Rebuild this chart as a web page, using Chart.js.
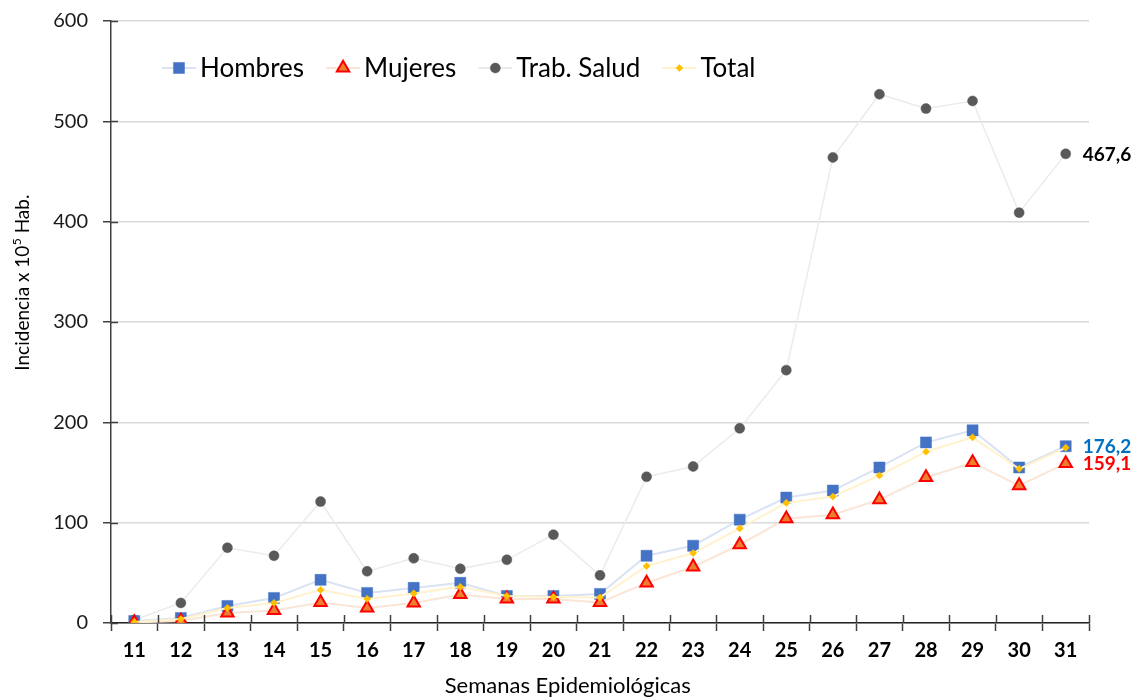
<!DOCTYPE html>
<html>
<head>
<meta charset="utf-8">
<script src="https://cdn.jsdelivr.net/npm/chart.js@4/dist/chart.umd.min.js"></script>
<style>
  html, body { margin: 0; padding: 0; background: #fff; }
  #wrap { width: 1136px; height: 698px; }
</style>
</head>
<body>
<div id="wrap"><canvas id="incidenceChart" width="1136" height="698"></canvas></div>
<script>
// semanas epidemiologicas
const weeks = ['11','12','13','14','15','16','17','18','19','20','21','22','23','24','25','26','27','28','29','30','31'];

// incidencia x 10^5 hab.
const hombres   = [2, 5, 17, 25, 43, 30, 35, 40, 27, 27, 29, 67, 77, 103, 125, 132, 155, 180, 192, 155, 176.2];
const mujeres   = [0.5, 2, 10, 12.5, 20.5, 15, 20, 28.5, 24, 24, 20.5, 40, 56, 78, 104, 108, 123, 145, 160, 137, 159.1];
const trabSalud = [3, 20, 75, 67, 121, 51.5, 64.5, 54, 63, 88, 47.5, 145.7, 156, 194, 252, 464, 527, 512.7, 520.3, 409, 467.6];
const total     = [1, 4, 15, 20, 33, 24, 29.5, 36, 27, 26, 25.5, 56.7, 69.7, 94.3, 119.7, 126, 147, 170.7, 185, 153.7, 174.7];

const yTicks = [0, 100, 200, 300, 400, 500, 600];

const FONT = 'Lato, Carlito, Calibri, sans-serif';

// end labels (last value of each series)
const endLabels = [
  { series: 'Trab. Salud', text: '467,6', color: '#000000' },
  { series: 'Hombres', text: '176,2', color: '#0070c0' },
  { series: 'Mujeres', text: '159,1', color: '#ff0000' }
];

/*
    Legend, axis titles, inner tick marks and end labels
*/
const extras = {
  id: 'extras',
  afterDraw(chart) {
    const ctx = chart.ctx;
    const area = chart.chartArea;
    const ys = chart.scales.y;
    ctx.save();

    // tick marks crossing into the plot
    ctx.strokeStyle = '#404040';
    ctx.lineWidth = 1.5;
    ctx.beginPath();
    yTicks.forEach(v => {
      const y = Math.round(ys.getPixelForValue(v)) + 0.5;
      ctx.moveTo(area.left, y);
      ctx.lineTo(area.left + 7, y);
    });
    const n = weeks.length;
    for (let i = 0; i <= n; i++) {
      const x = Math.round(area.left + i * (area.width / n)) + 0.5;
      ctx.moveTo(x, area.bottom);
      ctx.lineTo(x, area.bottom - 8);
    }
    ctx.stroke();

    // legend (in dataset order)
    let lx = area.left + 51;
    const ly = 68;
    ctx.font = '26px ' + FONT;
    ctx.textBaseline = 'middle';
    ctx.textAlign = 'left';
    chart.data.datasets.forEach(ds => {
      ctx.strokeStyle = ds.borderColor;
      ctx.lineWidth = 2;
      ctx.beginPath();
      ctx.moveTo(lx, ly);
      ctx.lineTo(lx + 34, ly);
      ctx.stroke();
      ctx.fillStyle = ds.pointBackgroundColor;
      ctx.strokeStyle = ds.pointBorderColor;
      ctx.lineWidth = ds.pointBorderWidth;
      Chart.helpers.drawPoint(ctx, {
        pointStyle: ds.pointStyle,
        radius: ds.pointRadius,
        rotation: 0,
        borderWidth: ds.pointBorderWidth
      }, lx + 17, ly);
      ctx.fillStyle = '#000';
      ctx.fillText(ds.label, lx + 38, ly + 1);
      lx += 38 + ctx.measureText(ds.label).width + 22;
    });

    // end value labels
    ctx.font = 'bold 19px ' + FONT;
    endLabels.forEach(l => {
      const idx = chart.data.datasets.findIndex(d => d.label === l.series);
      const pts = chart.getDatasetMeta(idx).data;
      const p = pts[pts.length - 1];
      ctx.fillStyle = l.color;
      ctx.fillText(l.text, p.x + 17, p.y + 1);
    });

    // x axis title
    ctx.fillStyle = '#000';
    ctx.font = '22px ' + FONT;
    ctx.textAlign = 'center';
    ctx.fillText('Semanas Epidemiológicas', area.left + area.width * 0.467, 686);

    // y axis title with superscript
    ctx.translate(23, area.top + area.height * 0.435);
    ctx.rotate(-Math.PI / 2);
    ctx.textAlign = 'left';
    const partA = 'Incidencia x 10';
    const partB = '5';
    const partC = ' Hab.';
    ctx.font = '19px ' + FONT;
    const wA = ctx.measureText(partA).width;
    const wC = ctx.measureText(partC).width;
    ctx.font = '12px ' + FONT;
    const wB = ctx.measureText(partB).width;
    let tx = -(wA + wB + wC) / 2;
    ctx.font = '19px ' + FONT;
    ctx.fillText(partA, tx, 0);
    tx += wA;
    ctx.font = '12px ' + FONT;
    ctx.fillText(partB, tx + 0.5, -6);
    tx += wB + 0.5;
    ctx.font = '19px ' + FONT;
    ctx.fillText(partC, tx, 0);
    ctx.restore();
  }
};

const ctx = document.getElementById('incidenceChart').getContext('2d');
const chart = new Chart(ctx, {
  type: 'line',
  data: {
    labels: weeks,
    datasets: [
      {
        label: 'Hombres',
        data: hombres,
        borderColor: '#dae3f3',
        borderWidth: 2,
        pointStyle: 'rect',
        pointRadius: 7.8,
        pointBackgroundColor: '#4472c4',
        pointBorderColor: '#4472c4',
        pointBorderWidth: 0.5,
        order: 2
      },
      {
        label: 'Mujeres',
        data: mujeres,
        borderColor: '#fbe5d6',
        borderWidth: 2,
        pointStyle: 'triangle',
        pointRadius: 7.2,
        pointBackgroundColor: '#ed7d31',
        pointBorderColor: '#ff0000',
        pointBorderWidth: 2,
        order: 1
      },
      {
        label: 'Trab. Salud',
        data: trabSalud,
        borderColor: '#ebebeb',
        borderWidth: 1.5,
        pointStyle: 'circle',
        pointRadius: 5,
        pointBackgroundColor: '#595959',
        pointBorderColor: '#595959',
        pointBorderWidth: 0.5,
        order: 3
      },
      {
        label: 'Total',
        data: total,
        borderColor: '#fff2cc',
        borderWidth: 2,
        pointStyle: 'rectRot',
        pointRadius: 3.6,
        pointBackgroundColor: '#ffc000',
        pointBorderColor: '#ffc000',
        pointBorderWidth: 0.5,
        order: 0
      }
    ]
  },
  options: {
    responsive: false,
    devicePixelRatio: 1,
    animation: false,
    layout: {
      padding: { top: 21, right: 47, left: 0, bottom: 0 }
    },
    plugins: {
      legend: { display: false },
      tooltip: { enabled: false }
    },
    elements: {
      line: { tension: 0 }
    },
    scales: {
      x: {
        offset: true,
        afterFit: s => { s.height = 75; },
        grid: {
          offset: true,
          drawOnChartArea: false,
          tickLength: 8,
          tickColor: '#404040',
          tickWidth: 1.5
        },
        border: { display: true, color: '#222', width: 1.5 },
        ticks: {
          color: '#000',
          padding: 8,
          font: { family: FONT, size: 20, weight: 'bold' }
        }
      },
      y: {
        min: 0,
        max: 600,
        afterFit: s => { s.width = 111; s.paddingTop = 0; s.paddingBottom = 0; },
        afterBuildTicks: s => { s.ticks = yTicks.map(v => ({ value: v })); },
        grid: {
          color: '#d9d9d9',
          lineWidth: 1.5,
          tickLength: 8,
          tickColor: '#404040',
          tickWidth: 1.5
        },
        border: { display: true, color: '#404040', width: 1.5 },
        ticks: {
          color: '#1a1a1a',
          padding: 15,
          font: { family: FONT, size: 20 }
        }
      }
    }
  },
  plugins: [extras]
});
</script>
</body>
</html>
